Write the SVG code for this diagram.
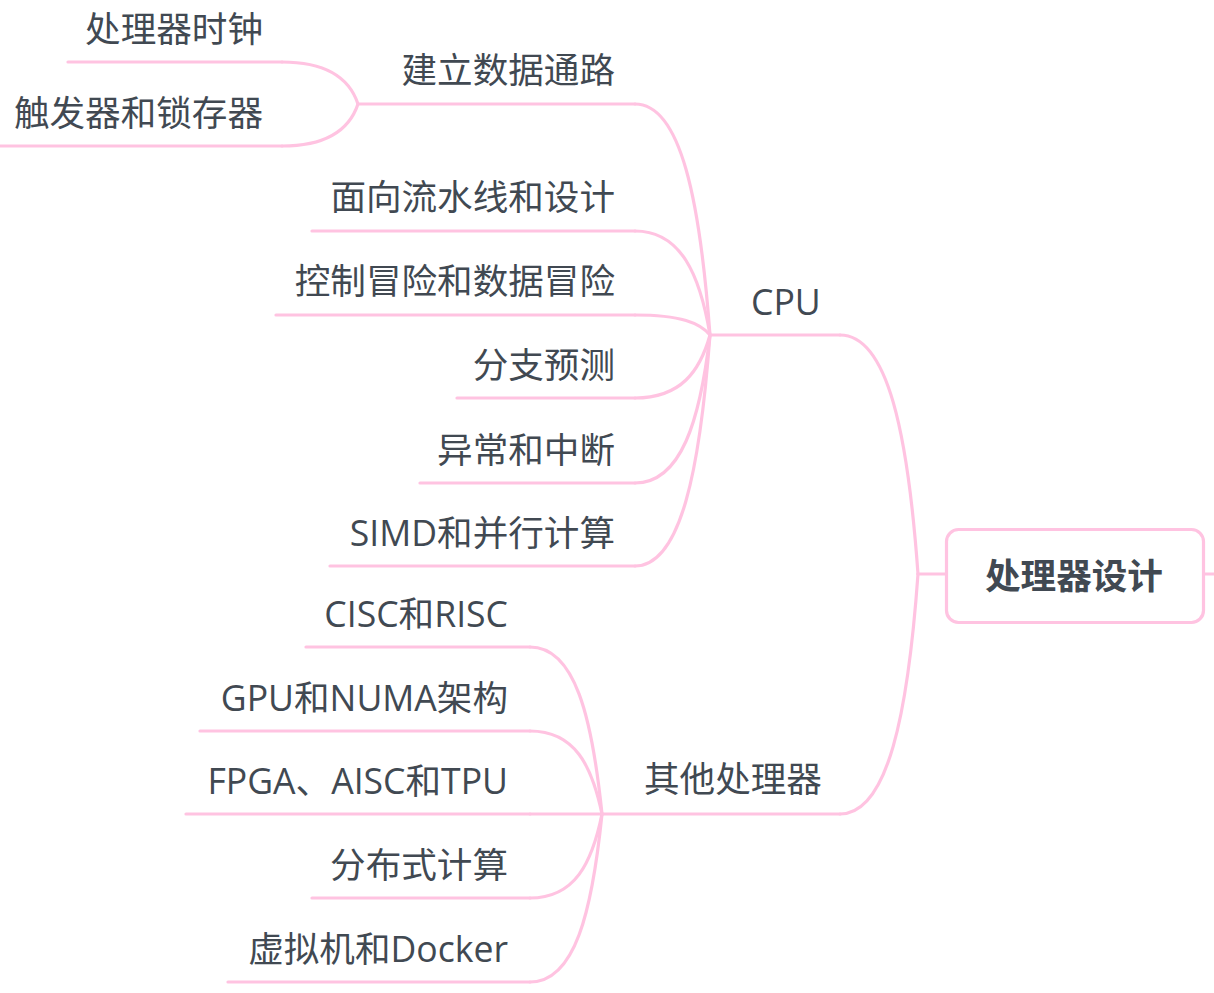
<svg xmlns="http://www.w3.org/2000/svg" width="1214" height="993" viewBox="0 0 1214 993">
<style>
.bg{fill:#ffffff}
.ln{fill:none;stroke:#ffc3e1;stroke-width:3.2;stroke-linecap:round}
.t{font-family:"Open Sans","Noto Sans CJK SC",sans-serif;font-size:35.6px;fill:#414952;dominant-baseline:central}
.e{text-anchor:end}
.root{font-weight:bold;text-anchor:middle}
.box{fill:#ffffff;stroke:#ffc3e1;stroke-width:3.2}
</style>
<rect class="bg" x="0" y="0" width="1214" height="993"/>
<g id="connectors">
  <path class="ln" d="M946 574 H918"/>
  <path class="ln" d="M1204 574 H1214"/>
  <path class="ln" d="M918 574 C908 435 888 335 840 335"/>
  <path class="ln" d="M918 574 C908 713 888 814 840 814"/>
  <path class="ln" d="M710 335 C700 201 681 104 635 104"/>
  <path class="ln" d="M710 335 C700 275 681 231 635 231"/>
  <path class="ln" d="M710 335 C700 323 681 315 635 315"/>
  <path class="ln" d="M710 335 C700 371 681 398 635 398"/>
  <path class="ln" d="M710 335 C700 421 681 483 635 483"/>
  <path class="ln" d="M710 335 C700 469 681 566 635 566"/>
  <path class="ln" d="M602 814 C592 717 575 647 530 647"/>
  <path class="ln" d="M602 814 C592 766 575 731 530 731"/>
  <path class="ln" d="M602 814 H530"/>
  <path class="ln" d="M602 814 C592 863 575 898 530 898"/>
  <path class="ln" d="M602 814 C592 912 575 982 530 982"/>
  <path class="ln" d="M358 104 C350 80 328 62 282 62"/>
  <path class="ln" d="M358 104 C350 128 328 146 282 146"/>
</g>
<g id="root">
  <rect class="box" x="946.5" y="529.5" width="257" height="93" rx="12"/>
  <text class="t root" x="1074" y="575">处理器设计</text>
</g>
<g id="cpu">
  <line class="ln" x1="710" y1="335" x2="840" y2="335"/>
  <text class="t" x="751" y="301">CPU</text>
</g>
<g id="other">
  <line class="ln" x1="602" y1="814" x2="840" y2="814"/>
  <text class="t" x="644" y="778">其他处理器</text>
</g>
<g id="datapath">
  <line class="ln" x1="358" y1="104" x2="635" y2="104"/>
  <text class="t e" x="615" y="69">建立数据通路</text>
</g>
<g id="clock">
  <line class="ln" x1="68" y1="62" x2="282" y2="62"/>
  <text class="t e" x="263" y="28">处理器时钟</text>
</g>
<g id="flipflop">
  <line class="ln" x1="0" y1="146" x2="282" y2="146"/>
  <text class="t e" x="263" y="112">触发器和锁存器</text>
</g>
<g id="pipeline">
  <line class="ln" x1="312" y1="231" x2="635" y2="231"/>
  <text class="t e" x="615" y="196">面向流水线和设计</text>
</g>
<g id="hazard">
  <line class="ln" x1="276" y1="315" x2="635" y2="315"/>
  <text class="t e" x="615" y="280">控制冒险和数据冒险</text>
</g>
<g id="branch">
  <line class="ln" x1="457" y1="398" x2="635" y2="398"/>
  <text class="t e" x="615" y="364">分支预测</text>
</g>
<g id="exception">
  <line class="ln" x1="420" y1="483" x2="635" y2="483"/>
  <text class="t e" x="615" y="449">异常和中断</text>
</g>
<g id="simd">
  <line class="ln" x1="330" y1="566" x2="635" y2="566"/>
  <text class="t e" x="615" y="532">SIMD和并行计算</text>
</g>
<g id="cisc">
  <line class="ln" x1="306" y1="647" x2="530" y2="647"/>
  <text class="t e" x="508" y="613">CISC和RISC</text>
</g>
<g id="gpu">
  <line class="ln" x1="200" y1="731" x2="530" y2="731"/>
  <text class="t e" x="508" y="697">GPU和NUMA架构</text>
</g>
<g id="fpga">
  <line class="ln" x1="186" y1="814" x2="530" y2="814"/>
  <text class="t e" x="508" y="780">FPGA、AISC和TPU</text>
</g>
<g id="distributed">
  <line class="ln" x1="312" y1="898" x2="530" y2="898"/>
  <text class="t e" x="508" y="864">分布式计算</text>
</g>
<g id="vm">
  <line class="ln" x1="228" y1="982" x2="530" y2="982"/>
  <text class="t e" x="508" y="948">虚拟机和Docker</text>
</g>
</svg>
